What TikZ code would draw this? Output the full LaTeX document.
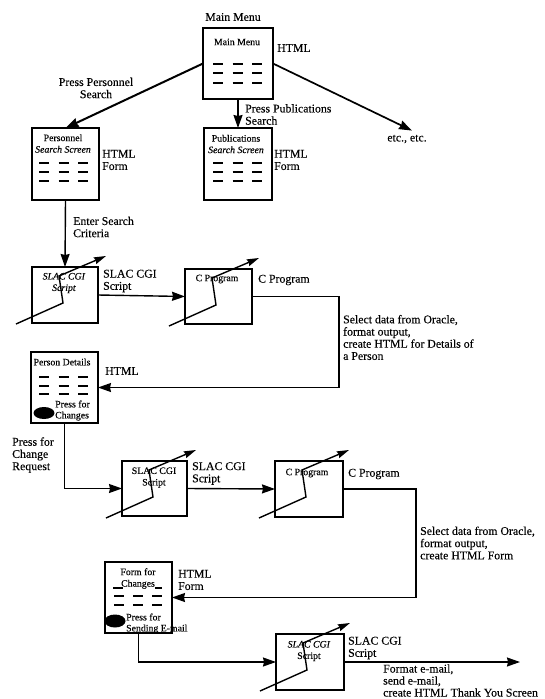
\documentclass[tikz,border=0pt]{standalone}
\usepackage{fontspec}
\setmainfont[FakeBold=0.12]{Liberation Serif}
\usetikzlibrary{arrows.meta,calc}
\tikzset{
  x=1pt,y=-1pt,
  bigtip/.style={-{Stealth[length=13pt,width=9pt,inset=1pt]}},
  screenbox/.style={draw,line width=1.6pt,anchor=north west,inner sep=0,outer sep=0,minimum width=#1},
  conn/.style={line width=1.4pt,bigtip},
  softline/.style={line width=1.4pt,-{Stealth[length=12pt,width=7pt,inset=1pt]}},
  lab/.style={anchor=west,align=left,inner sep=0,font=\fontsize{11.8}{12.2}\selectfont},
  clab/.style={anchor=center,align=center,inner sep=0,font=\fontsize{11.8}{12.2}\selectfont},
  tiny/.style={anchor=center,align=center,inner sep=0,font=\fontsize{9.8}{11.5}\selectfont},
  tinyl/.style={anchor=west,align=left,inner sep=0,font=\fontsize{9.8}{11}\selectfont},
  dashline/.style={line width=1.3pt}
}
\newcommand{\dashgrid}[5]{% node, first x offset, column gap, unused, y list
  \begin{scope}[shift={(#1.north west)}]
    \foreach \yy in {#5} \foreach \cc in {0,1,2}
      \draw[dashline] ({#2+\cc*#3},\yy) -- ({#2+\cc*#3+10},\yy);
  \end{scope}}
\newcommand{\swline}[1]{%
  \begin{scope}[shift={(#1.north west)}]
    \draw[softline] (-16,57) -- (31,36) -- (27,9) -- (74,-11);
  \end{scope}}
\begin{document}
\begin{tikzpicture}
\useasboundingbox (0,0) rectangle (544,699);
\fill[white] (0,0) rectangle (544,699);

% boxes
\node[screenbox=70pt,minimum height=71pt] (main) at (203,28) {};
\node[screenbox=67pt,minimum height=72pt] (pers) at (32,128) {};
\node[screenbox=68pt,minimum height=72pt] (pub) at (204,128) {};
\node[screenbox=66pt,minimum height=56pt] (slaca) at (32,267) {};
\node[screenbox=67pt,minimum height=55pt] (proga) at (185,269) {};
\node[screenbox=67pt,minimum height=71pt] (det) at (31,352) {};
\node[screenbox=65pt,minimum height=55pt] (slacb) at (122,461) {};
\node[screenbox=68pt,minimum height=56pt] (progb) at (275,461) {};
\node[screenbox=67pt,minimum height=71pt] (form) at (105,562) {};
\node[screenbox=68pt,minimum height=56pt] (slacc) at (276,634) {};

% end text node and free coordinates
\node[clab] (etc) at (407,139) {etc., etc.};
\coordinate (turna) at (339,340);
\coordinate (turnb) at (416,540);
\coordinate (endc) at (520,662.0);

% connectors
\draw[line width=2pt,bigtip] (main.west) -- (pers.north);
\draw[conn] (main.south) -- (pub.north -| main.south);
\draw[line width=1.7pt,bigtip] (main.east) -- ($(etc.north)+(5,-4)$);
\draw[conn] (pers.south) -- (slaca.north);
\draw[conn] (slaca.east) -- (proga.west);
\draw[conn] (proga.east) -| (turna) |- (det.east);
\draw[conn] (det.south) |- (slacb.west);
\draw[conn] (slacb.east) -- (progb.west);
\draw[conn] (progb.east) -| (turnb) |- (form.east);
\draw[conn] (form.south) |- (slacc.west);
\draw[conn] (slacc.east) -- (endc);

% crossing lines
\swline{slaca}\swline{proga}\swline{slacb}\swline{progb}\swline{slacc}

% dashes
\dashgrid{main}{10}{19.5}{0}{36,45,55}
\dashgrid{pers}{7}{19.5}{0}{35,44,53}
\dashgrid{pub}{9}{19.5}{0}{35,44,53}
\dashgrid{det}{8}{19.5}{0}{25,34,42}
\dashgrid{form}{9}{19}{0}{34,43}
\draw[dashline] ($(form.north west)+(8,26)$) -- ($(form.north west)+(18,26)$);
\draw[dashline] ($(form.north west)+(50,26)$) -- ($(form.north west)+(57,26)$);

% ovals
\fill (44,413) ellipse [x radius=10.5,y radius=6];
\fill (115,621) ellipse [x radius=10.5,y radius=6.5];

% outer labels
\node[clab] (tmain) at (233,17) {Main Menu};
\node[lab] (lhtml) at (277,48) {HTML};
\node[clab] (lpp) at (96,88) {Press Personnel\\Search};
\node[lab] (lpub) at (245,114.5) {Press Publications\\Search};
\node[lab] (lpersf) at (102,160) {HTML\\Form};
\node[lab] (lpubf) at (274,160) {HTML\\Form};
\node[lab] (lenter) at (73,227) {Enter Search\\Criteria};
\node[lab] (lsa) at (103,281) {SLAC CGI\\Script};
\node[lab] (lca) at (258,280) {C Program};
\node[lab] (lhtmlb) at (105,371) {HTML};
\node[lab] (lsela) at (343,337.5) {Select data from Oracle,\\format output,\\create HTML for Details of\\a Person};
\node[lab] (lpfc) at (12,455) {Press for\\Change\\Request};
\node[lab] (lsb) at (192,473.5) {SLAC CGI\\Script};
\node[lab] (lcb) at (348,474) {C Program};
\node[lab] (lselb) at (420,543) {Select data from Oracle,\\format output,\\create HTML Form};
\node[lab] (lff) at (178,580) {HTML\\Form};
\node[lab] (lsc) at (348,648) {SLAC CGI\\Script};
\node[lab,font=\fontsize{11.8}{12}\selectfont] (lfmt) at (383,680.5) {Format e-mail,\\send e-mail,\\create HTML Thank You Screen};

% inner labels
\node[tiny] (imain) at (237,42) {Main Menu};
\node[tiny] (ipers) at (63,143.5) {Personnel\\\textit{Search Screen}};
\node[tiny] (ipub) at (236,144) {Publications\\\textit{Search Screen}};
\node[tiny] (isa) at (64,283) {\textit{SLAC CGI}\\\textit{Script}};
\node[tiny] (ica) at (217,279) {C Program};
\node[tiny] (idet) at (62,362) {Person Details};
\node[tinyl] (idp) at (55,410.5) {Press for\\Changes};
\node[tiny] (isb) at (154,477.5) {SLAC CGI\\Script};
\node[tiny] (icb) at (307,473) {C Program};
\node[tiny] (iff) at (138,578.5) {Form for\\Changes};
\node[tinyl] (ifp) at (126,623.5) {Press for\\Sending E-mail};
\node[tiny] (isc) at (309,651) {\textit{SLAC CGI}\\Script};
\end{tikzpicture}
\end{document}
